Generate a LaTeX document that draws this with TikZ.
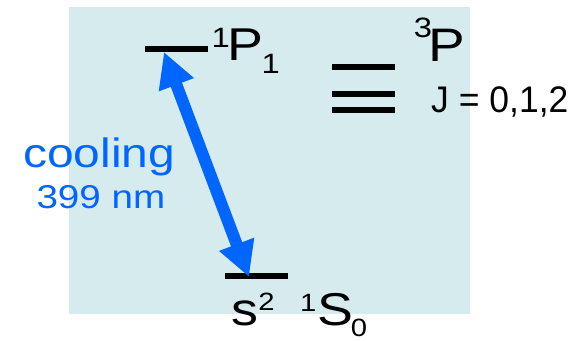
\documentclass[tikz,border=0pt]{standalone}
\usepackage{fontspec}
\setmainfont{Liberation Sans}[FakeStretch=1.17]
\newfontfamily\jfont{Liberation Sans}[FakeStretch=0.96]
\usetikzlibrary{arrows.meta}
\definecolor{panelbg}{RGB}{214,235,238}
\definecolor{laserblue}{RGB}{0,102,255}
\newcommand{\fsz}[1]{\fontsize{#1}{#1}\selectfont}

\begin{document}
\begin{tikzpicture}[x=1pt, y=-1pt, lvlbar/.style={fill=black, minimum width=63pt, minimum height=6pt, inner sep=0pt}, lab/.style={anchor=base west, inner sep=0pt}, >={Triangle[length=35pt, width=35pt]}]
\useasboundingbox (0,0) rectangle (583,340);
\fill[panelbg] (69,7) rectangle (470,314);
% energy levels
\node[lvlbar] (p1) at (176.5,49.3) {};
\node[lvlbar] (p3a) at (363.5,66.7) {};
\node[lvlbar] (p3b) at (363.5,94) {};
\node[lvlbar] (p3c) at (363.5,110) {};
\node[lvlbar] (s0) at (256.5,275.7) {};
% transition
\coordinate (up) at (164,52);
\coordinate (dn) at (249,277);
\draw[<->, laserblue, line width=12pt] (up) -- (dn);
% labels
\node[lab, font=\fsz{46}] (p1lab) at (211.4,60) {\raisebox{13pt}{\fsz{28}1}\hspace{-1.9pt}P\hspace{-2.2pt}\raisebox{-13pt}{\fsz{28}1}};
\node[lab, font=\fsz{47}] (p3lab) at (413.6,61) {\raisebox{24pt}{\fsz{28}3}\hspace{-4pt}P};
\node[lab, font=\jfont\fsz{37}] (jlab) at (431,112) {J = 0,1,2};
\node[lab, font=\fsz{41}, text=laserblue] (cool) at (23,167) {cooling};
\node[lab, font=\fsz{33}, text=laserblue] (wave) at (36.3,208) {399 nm};
\node[lab, font=\fsz{46}] (s2lab) at (231.3,325) {s\raisebox{15pt}{\fsz{25}2}};
\node[lab, font=\fsz{46}] (s0lab) at (299.8,325) {\raisebox{14pt}{\fsz{25}1}\hspace{1.4pt}S\hspace{-2.6pt}\raisebox{-11pt}{\fsz{25}0}};
\end{tikzpicture}
\end{document}
